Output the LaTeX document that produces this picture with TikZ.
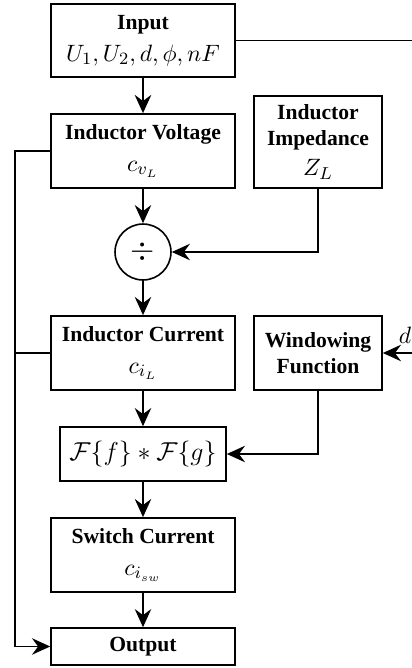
\documentclass[tikz,border=0pt]{standalone}
\usepackage[no-math]{fontspec}
\setmainfont{Liberation Serif}
\usetikzlibrary{arrows.meta}
\newcommand{\mth}[1]{{\fontsize{10.9}{13}\selectfont$#1$}}
\begin{document}
\begin{tikzpicture}[x=0.463pt, y=-0.463pt,
  box/.style={draw, line width=0.75pt, inner sep=0pt, align=center, font=\bfseries},
  bigbox/.style={box, minimum width=85.2pt, minimum height=34.3pt},
  sidebox/.style={box, minimum width=59.3pt},
  ln/.style={line width=0.75pt},
  arr/.style={ln, -{Stealth[length=8.4pt,width=7.6pt,inset=2.8pt]}},
  thickarr/.style={line width=1.3pt, -{Stealth[length=8.4pt,width=7.6pt,inset=2.8pt]}}]
\useasboundingbox (0,0) rectangle (412,668);
\node[bigbox, minimum height=33.8pt] (in) at (143,40.5) {Input\\[2.6pt] \mth{U_1, U_2, d, \phi, nF}};
\node[bigbox] (iv) at (143,151) {Inductor Voltage\\[2.6pt] \mth{c_{v_L}}};
\node[sidebox, minimum height=42.6pt] (imp) at (318,142) {Inductor\\Impedance\\[1.8pt] \mth{Z_L}};
\node[draw, ln, circle, minimum size=25.9pt, inner sep=0pt] (div) at (143,252) {\Large$\div$};
\node[bigbox] (ic) at (143,353) {Inductor Current\\[2.6pt] \mth{c_{i_L}}};
\node[sidebox, minimum height=34.3pt] (win) at (318,353) {Windowing\\Function};
\node[box, font=\normalfont\large, minimum width=76.9pt, minimum height=25pt] (conv) at (143,454) {$\mathcal{F}\{f\} * \mathcal{F}\{g\}$};
\node[bigbox] (sw) at (143,555) {Switch Current\\[2.6pt] \mth{c_{i_{sw}}}};
\node[bigbox, minimum height=17.1pt] (out) at (143,646.5) {Output};
\coordinate (inr) at (412,40.5);
\coordinate (lt) at (15,151);
\coordinate (dsrc) at (412,353);
\node[inner sep=0pt] (dlab) at (405,335) {\mth{d}};
\draw[ln] (in.east) -- (inr);
\draw[thickarr] (in.south) -- (iv.north);
\draw[arr] (iv.south) -- (div.north);
\draw[arr] (imp.south) |- (div.east);
\draw[arr] (div.south) -- (ic.north);
\draw[arr] (ic.south) -- (conv.north);
\draw[arr] (dsrc) -- (win.east);
\draw[arr] (win.south) |- (conv.east);
\draw[arr] (conv.south) -- (sw.north);
\draw[arr] (sw.south) -- (out.north);
\draw[arr] (iv.west) -- (lt) |- (out.west);
\draw[ln] (ic.west) -- (ic.west -| lt);
\end{tikzpicture}
\end{document}
